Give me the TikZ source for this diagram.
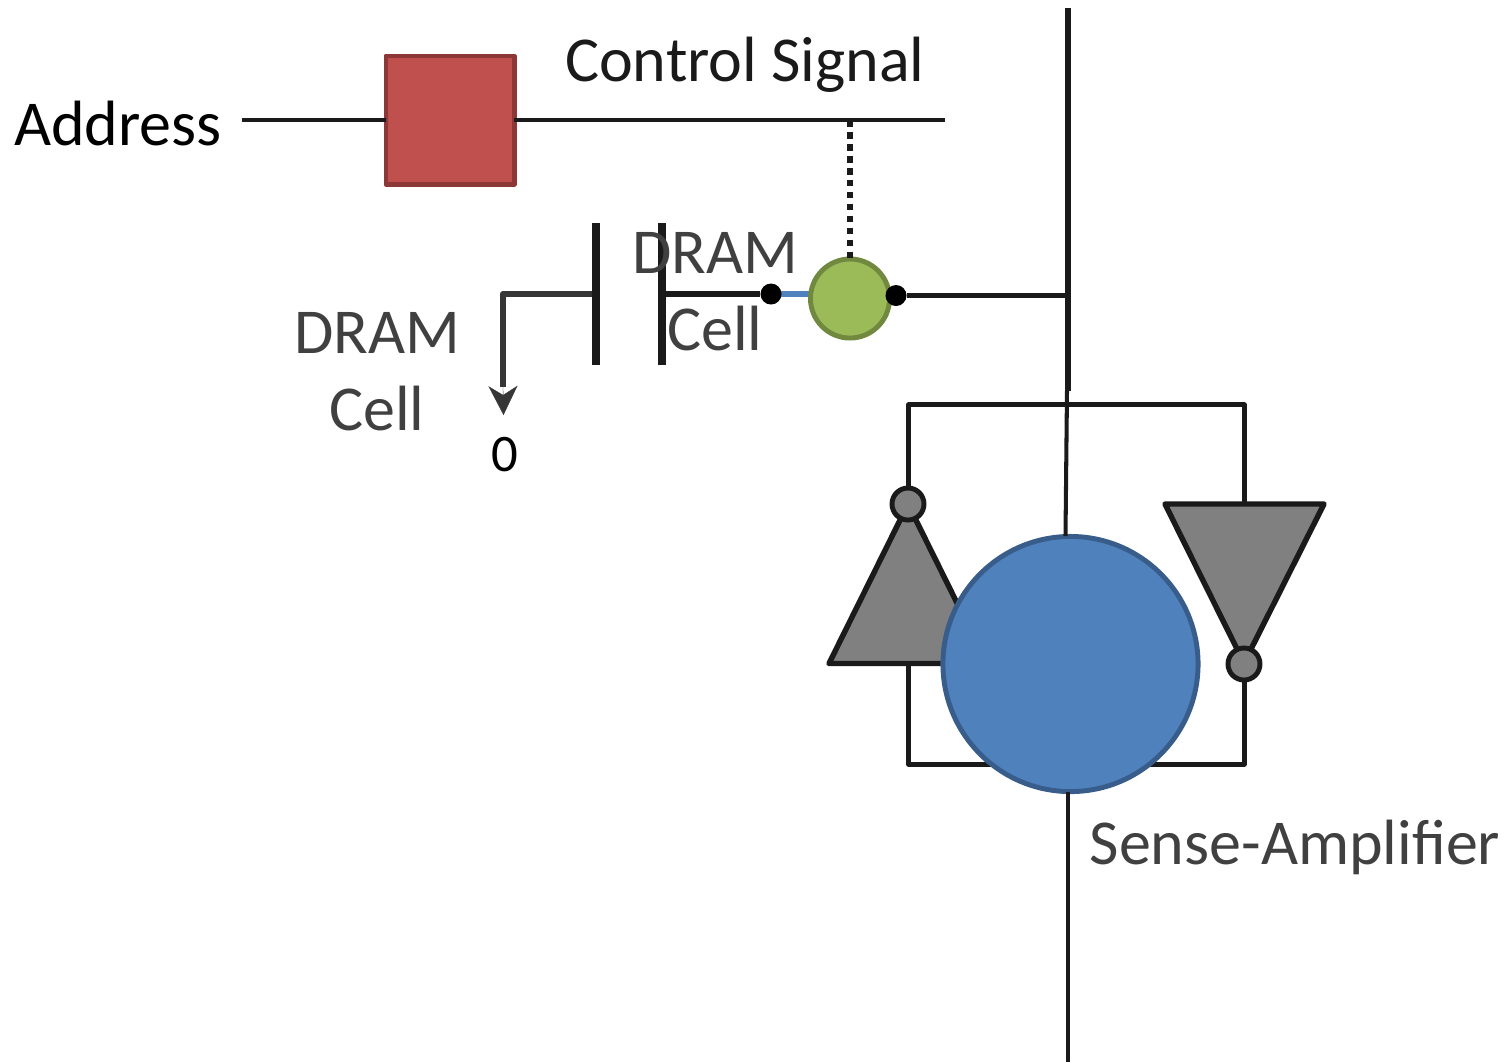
\documentclass[tikz,border=0pt]{standalone}
\usepackage{fontspec}
\setmainfont{Carlito}
\usetikzlibrary{arrows.meta}
\definecolor{wirecol}{HTML}{1A1A1A}
\definecolor{labelcol}{HTML}{404040}
\definecolor{latchcol}{HTML}{808080}
\definecolor{redfill}{RGB}{192,80,77}
\definecolor{redline}{RGB}{140,56,54}
\definecolor{greenfill}{RGB}{155,187,89}
\definecolor{greenline}{RGB}{113,137,63}
\definecolor{bluefill}{RGB}{79,129,189}
\definecolor{blueline}{RGB}{56,93,138}
\tikzset{
  wire/.style={draw=wirecol,line width=1.15pt,line join=round},
  plate/.style={draw=wirecol,line width=2pt},
  bigtext/.style={anchor=base,text=labelcol,font=\fontsize{18.2}{18.2}\selectfont},
  latch/.style={draw=wirecol,fill=latchcol,line width=1.55pt,line join=round},
  bubble/.style={draw=wirecol,fill=latchcol,circle,line width=1.4pt,inner sep=0pt,outer sep=0pt,minimum size=0.32cm},
  dot/.style={fill=black,circle,inner sep=0pt,outer sep=0pt,minimum size=0.21cm}
}
\begin{document}
\begin{tikzpicture}[x=0.01cm,y=-0.01cm]
\useasboundingbox (0,0) rectangle (1511,1062);
% word line
\node[draw=redline,fill=redfill,line width=1.4pt,line join=round,inner sep=0pt,outer sep=0pt,minimum size=1.28cm] (decoder) at (450,120) {};
\coordinate (addrin) at (242,120);
\coordinate (wordend) at (945,120);
\coordinate (tap) at (850,120);
\path[wire] (addrin) -- (decoder);
\path[wire] (decoder) -- (wordend);
% access transistor
\coordinate (accessw) at (815,294);
\path[draw=bluefill,line width=1.6pt] (771,294) -- (accessw);
\node[draw=greenline,fill=greenfill,circle,line width=1.4pt,inner sep=0pt,outer sep=0pt,minimum size=0.79cm] (access) at (850,298.5) {};
\node[dot] (dotl) at (771,294) {};
\node[dot] (dotr) at (896,295.5) {};
\path[draw=wirecol,line width=1.8pt,dash pattern=on 1.9pt off 1.5pt] (tap) -- (access);
% capacitor
\coordinate (topa) at (596,223);
\coordinate (bota) at (596,365);
\coordinate (topb) at (662,223);
\coordinate (botb) at (662,365);
\coordinate (midb) at (662,294);
\coordinate (mida) at (596,294);
\coordinate (corner) at (503,294);
\coordinate (gndstop) at (503,387);
\coordinate (gnd) at (503.5,415);
\path[draw=wirecol,line width=1.7pt] (midb) -- (dotl);
\path[draw=labelcol!85!black,line width=1.7pt,line join=round] (mida) -- (corner) -- (gndstop);
\path[draw=labelcol!85!black,line width=0.1pt,-{Stealth[length=0.29cm,width=0.29cm,inset=0.09cm]}] (gndstop) -- (gnd);
\path[plate] (topa) -- (bota);
\path[plate] (topb) -- (botb);
% bit line
\coordinate (bltop) at (1068,8);
\coordinate (blmid) at (1068,391);
\coordinate (blsa) at (1067,391);
\coordinate (blsaend) at (1065.5,536);
\coordinate (blout) at (1068,295.5);
\coordinate (blbot) at (1068,1062);
\path[wire] (dotr) -- (blout);
\path[draw=wirecol,line width=1.5pt] (bltop) -- (blmid);
% sense amplifier
\coordinate (lefttop) at (908.5,404.5);
\coordinate (righttop) at (1244.5,404.5);
\coordinate (leftbot) at (908.5,764.5);
\coordinate (rightbot) at (1244.5,764.5);
\coordinate (lefttri) at (908.5,663);
\coordinate (righttri) at (1244.5,504);
\path[wire] (908.5,504) -- (lefttop) -- (righttop) -- (righttri);
\path[wire] (lefttri) -- (leftbot) -- (rightbot) -- (1244.5,664);
\path[latch] (908,504) -- (829,663.5) -- (987,663.5) -- cycle;
\path[latch] (1165,504) -- (1324,504) -- (1244,663) -- cycle;
\node[bubble] (invl) at (908,504) {};
\node[bubble] (invr) at (1244,664) {};
\node[draw=blueline,fill=bluefill,circle,line width=1.4pt,inner sep=0pt,outer sep=0pt,minimum size=2.55cm] (sa) at (1070.5,664) {};
\path[wire] (blsa) -- (blsaend);
\path[wire] (sa.south -| blbot) -- (blbot);
% labels
\node[bigtext,text=black] (addr) at (118,145) {Address};
\node[bigtext,text=wirecol] (ctrl) at (745,81) {Control Signal};
\node[bigtext] (draml) at (377,353) {DRAM};
\node[bigtext] (celll) at (377,430) {Cell};
\node[bigtext] (dramr) at (715,273) {DRAM};
\node[bigtext] (cellr) at (715,350) {Cell};
\node[anchor=base,font=\fontsize{15}{15}\selectfont] (zero) at (504.5,471) {0};
\node[bigtext] (sense) at (1295,864) {Sense-Amplifier};
\end{tikzpicture}
\end{document}
